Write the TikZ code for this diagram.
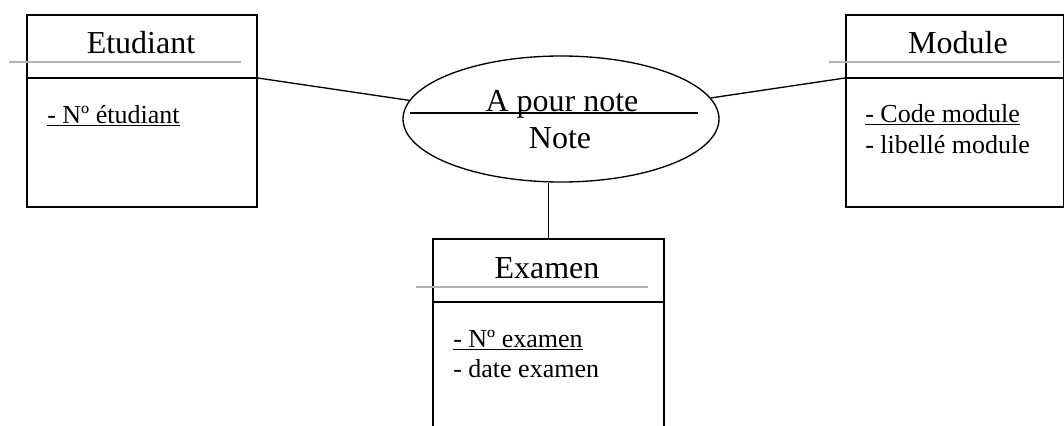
\documentclass[tikz,border=0pt]{standalone}
\usepackage{fontspec}
\setmainfont{Liberation Serif}
\usetikzlibrary{shapes.geometric}

\begin{document}
\begin{tikzpicture}[x=0.75pt,y=-0.75pt,
		entite/.style={draw,line width=1.3pt,inner sep=0pt,anchor=north west},
		titre/.style={font=\fontsize{24}{28}\selectfont,anchor=base,inner sep=0pt},
		attr/.style={font=\fontsize{19.5}{23}\selectfont,anchor=base west,inner sep=0pt},
		trait/.style={line width=1pt},
		gris/.style={draw=gray!60,line width=1.1pt}]
		\useasboundingbox (0,0) rectangle (1064,425);
		\clip (0,0) rectangle (1064,425);
		
		% entites
		\node[entite,minimum width=172.5pt,minimum height=144pt] (etudiant) at (26,14) {};
		\node[entite,minimum width=163.5pt,minimum height=144pt] (module) at (845,14) {};
		\node[entite,minimum width=173.25pt,minimum height=151.5pt] (examen) at (432,238) {};
		
		\draw[line width=1.3pt] (etudiant.west |- 0,78) coordinate (etudiantG) -- (etudiant.east |- 0,78) coordinate (etudiantD);
		\draw[line width=1.3pt] (module.west |- 0,78) coordinate (moduleG) -- (module.east |- 0,78) coordinate (moduleD);
		\draw[line width=1.3pt] (examen.west |- 0,302) -- (examen.east |- 0,302);
		
		\draw[gris] (9,62) -- (241,62);
		\draw[gris] (829,62) -- (1060,62);
		\draw[gris] (416,287) -- (648,287);
		
		% association
		\node[draw,ellipse,line width=1pt,minimum width=237pt,minimum height=94.5pt,inner sep=0pt] (ap) at (561,119) {};
		\draw[line width=1.2pt] (410,113) -- (698,113);
		
		\node[titre] (tEtudiant) at (141,53) {Etudiant};
		\node[titre] (tModule) at (958,53) {Module};
		\node[titre] (tExamen) at (547,278) {Examen};
		\node[titre] (tAPour) at (562,111) {A pour note};
		\node[titre] (tNote) at (560,148) {Note};
		
		\node[attr] (aNumEtu) at (47,123) {\underline{- Nº étudiant}};
		\node[attr] (aCode) at (865,122) {\underline{- Code module}};
		\node[attr] (aLib) at (865,153) {- libellé module};
		\node[attr] (aNumEx) at (453,347) {\underline{- Nº examen}};
		\node[attr] (aDate) at (453,377) {- date examen};
		
		% liens
		\draw[trait] (etudiantD) -- (ap.173);
		\draw[trait] (ap.8) -- (moduleG);
		\draw[trait] (examen.north) -- (examen.north |- ap.south);
	\end{tikzpicture}
\end{document}
